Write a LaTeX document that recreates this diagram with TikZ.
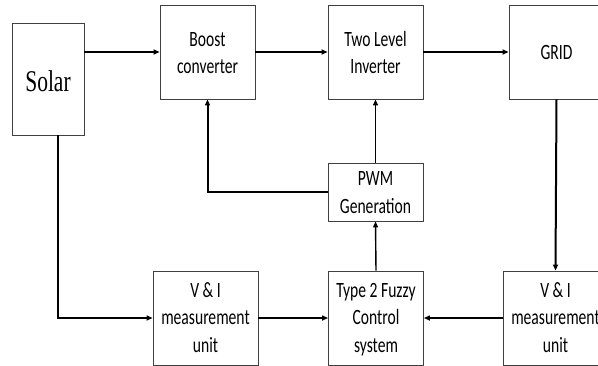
\documentclass[tikz,border=0pt]{standalone}
\usepackage{fontspec}
\setmainfont{Carlito}
\newfontfamily\serifblock{Liberation Serif}
\usepackage{graphicx}
\usetikzlibrary{arrows.meta}
\newcommand{\tallbox}[2][2.5pt]{\raisebox{-#1}[\height][\depth]{\scalebox{1}[1.4]{\begin{tabular}{@{}c@{}}#2\end{tabular}}}}

\begin{document}
\begin{tikzpicture}[x=1pt, y=-1pt,
    blk/.style={draw=black!75, line width=0.9pt, inner sep=0pt,
      minimum width=95pt, minimum height=94pt, font=\fontsize{15.6}{19.6}\selectfont},
    conn/.style={line width=2pt, -{Triangle[length=6pt,width=5pt]}},
    thinconn/.style={conn, line width=1.4pt}]
  \clip (0,0) rectangle (598,365);
  % Power path along the top.
  \node[blk, minimum width=72pt, minimum height=112pt] (solar) at (48,79)
    {\fontsize{21.5}{25}\serifblock\tallbox[5pt]{Solar}};
  \node[blk] (boost) at (207.5,52) {\tallbox{Boost\\converter}};
  \node[blk] (inv) at (375.5,52) {\tallbox{Two Level\\Inverter}};
  \node[blk] (grid) at (556.5,52) {\tallbox[2pt]{GRID}};
  \node[blk, minimum height=58pt] (pwm) at (375.5,192) {\tallbox[2pt]{PWM\\Generation}};
  % Measurement and control along the bottom.
  \node[blk, minimum width=105pt] (vi1) at (205.5,318) {\tallbox[1.5pt]{V \& I\\measurement\\unit}};
  \node[blk] (fuzzy) at (376,318) {\tallbox[1.5pt]{Type 2 Fuzzy\\Control\\system}};
  \node[blk, minimum width=105pt] (vi2) at (555.5,318) {\tallbox[1.5pt]{V \& I\\measurement\\unit}};

  \draw[conn] (solar.east |- boost.west) -- (boost.west);
  \draw[conn] (boost.east) -- (inv.west);
  \draw[conn] (inv.east) -- (grid.west);
  \draw[conn] (grid.south) -- (vi2.north);
  \draw[conn] (vi2.west) -- (fuzzy.east);
  \draw[conn] (vi1.east) -- (fuzzy.west);
  \draw[conn] ([xshift=10pt]solar.south) |- (vi1.west);
  \draw[conn] (pwm.west) -| (boost.south);
  \draw[thinconn] (fuzzy.north) -- (pwm.south);
  \draw[thinconn] (pwm.north) -- (inv.south);
\end{tikzpicture}
\end{document}
